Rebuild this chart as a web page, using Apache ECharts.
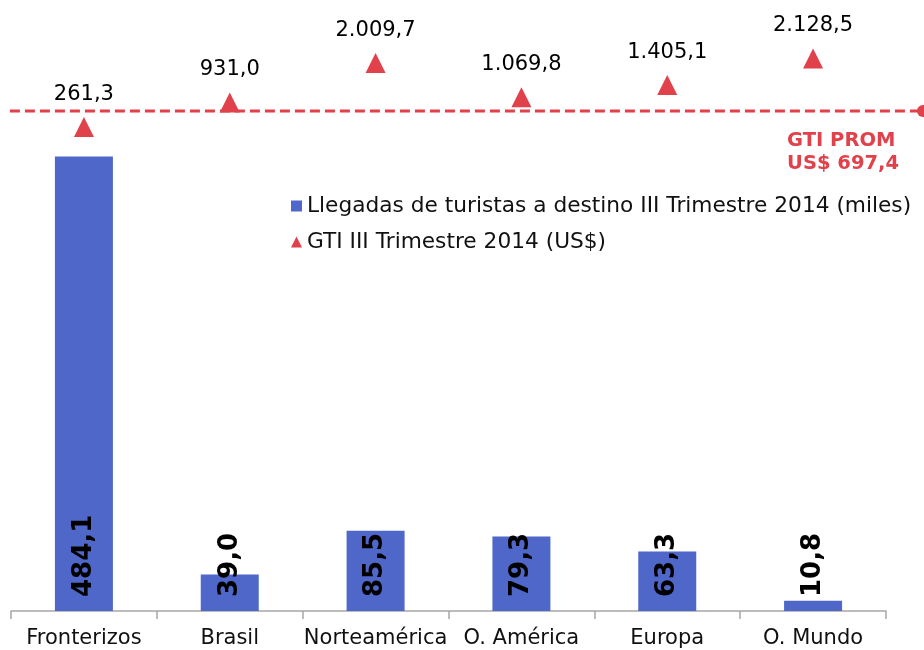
<!DOCTYPE html>
<html><head><meta charset="utf-8">
<script src="https://cdn.jsdelivr.net/npm/echarts@6/dist/echarts.min.js"></script>
<style>html,body{margin:0;padding:0;background:#fff}#c{width:924px;height:650px}</style>
</head><body><div id="c"></div>
<script>
const categories = ['Fronterizos', 'Brasil', 'Norteamérica', 'O. América', 'Europa', 'O. Mundo'];
const llegadas = [484.1, 39.0, 85.5, 79.3, 63.3, 10.8];
const gti = [261.3, 931.0, 2009.7, 1069.8, 1405.1, 2128.5];
const gtiProm = 697.4;
const seriesNames = ['Llegadas de turistas a destino III Trimestre 2014 (miles)', 'GTI III Trimestre 2014 (US$)'];

const FONT = '"DejaVu Sans", Verdana, sans-serif';
const RED = '#e0414b';
const BLUE = '#4f67c9';

function fmt(v) {
  const s = v.toFixed(1).split('.');
  return s[0].replace(/\B(?=(\d{3})+(?!\d))/g, '.') + ',' + s[1];
}

const chart = echarts.init(document.getElementById('c'), null, {renderer: 'canvas'});
chart.setOption({
  animation: false,
  backgroundColor: '#fff',
  textStyle: {fontFamily: FONT},
  grid: {left: 11, right: 38, top: 11, bottom: 39, containLabel: false},
  legend: {
    orient: 'vertical', left: 286, top: 190, itemGap: 14, itemWidth: 11, itemHeight: 11,
    textStyle: {fontFamily: FONT, fontSize: 21.7, color: '#111'},
    data: [{name: seriesNames[0], icon: 'rect'}, {name: seriesNames[1], icon: 'triangle'}]
  },
  xAxis: {
    type: 'category', data: categories,
    axisLine: {lineStyle: {color: '#a6a6a6', width: 1.5}},
    axisTick: {show: true, length: 8, lineStyle: {color: '#a6a6a6', width: 1.5}},
    axisLabel: {fontFamily: FONT, fontSize: 21, color: '#111', margin: 17, interval: 0}
  },
  yAxis: [
    {type: 'value', min: 0, max: 639, show: false, splitLine: {show: false}},
    {type: 'value', min: -12932, max: 3424, show: false, splitLine: {show: false}}
  ],
  series: [
    {
      name: seriesNames[0], type: 'bar', data: llegadas, barWidth: 58, yAxisIndex: 0,
      itemStyle: {color: BLUE},
      label: {
        show: true, position: 'insideBottom', rotate: 90, align: 'left', verticalAlign: 'middle',
        distance: 14, fontFamily: FONT, fontSize: 26, fontWeight: 'bold', color: '#000',
        formatter: p => fmt(p.value)
      }
    },
    {
      name: seriesNames[1], type: 'scatter', data: gti, yAxisIndex: 1,
      symbol: 'triangle', symbolSize: [20, 20],
      itemStyle: {color: RED, opacity: 1},
      label: {
        show: true, position: 'top', distance: 12, fontFamily: FONT, fontSize: 21, color: '#000', opacity: 1,
        formatter: p => fmt(p.value)
      }
    }
  ]
});

const yLine = chart.convertToPixel({yAxisIndex: 1}, gtiProm);
const xStart = chart.convertToPixel({xAxisIndex: 0}, categories[0]) - 73;
chart.setOption({
  graphic: [
    {type: 'line', shape: {x1: xStart - 1, y1: yLine, x2: 922, y2: yLine},
     style: {stroke: RED, lineWidth: 3, lineDash: [10, 5]}, z: 5},
    {type: 'circle', shape: {cx: 923, cy: yLine, r: 6}, style: {fill: RED}, z: 5},
    {type: 'text', right: 25, top: yLine + 18, z: 5,
     style: {text: 'GTI PROM\nUS$ ' + fmt(gtiProm), fill: RED, font: 'bold 19.5px ' + FONT, align: 'right', lineHeight: 23}}
  ]
});
</script>
</body></html>
